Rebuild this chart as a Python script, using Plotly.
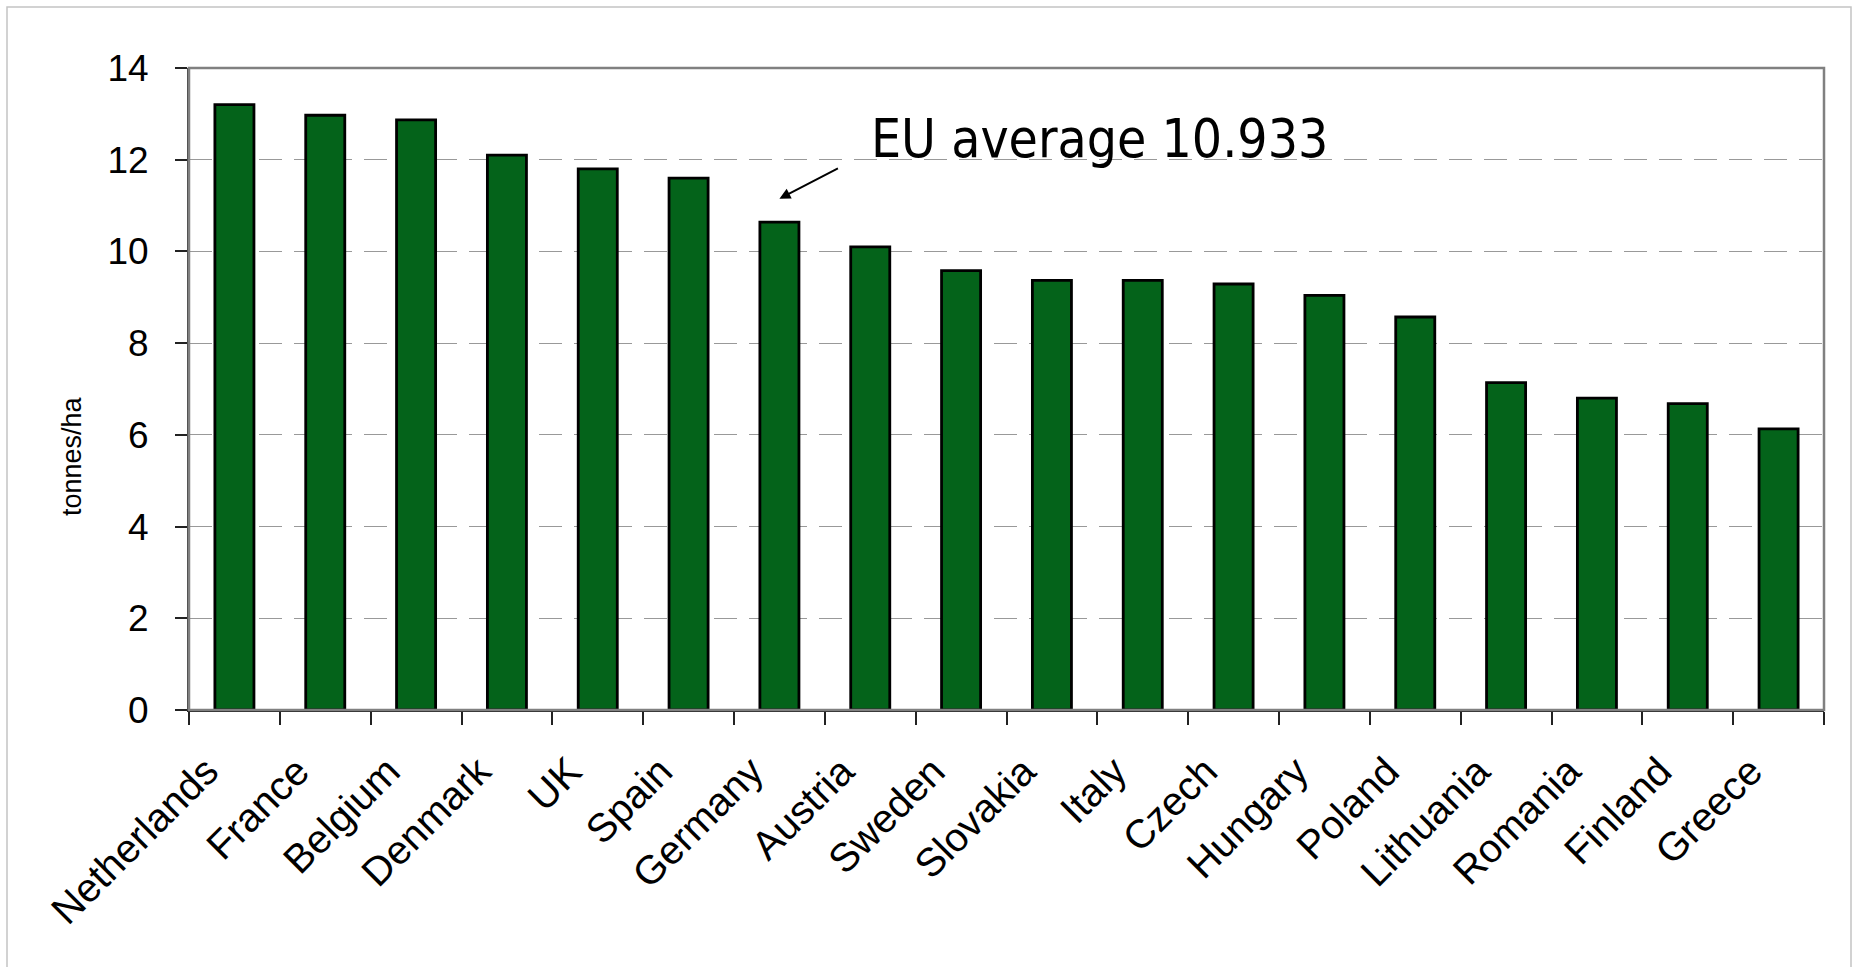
import plotly.graph_objects as go

# Yield per hectare by country
countries = ["Netherlands", "France", "Belgium", "Denmark", "UK", "Spain", "Germany",
             "Austria", "Sweden", "Slovakia", "Italy", "Czech", "Hungary", "Poland",
             "Lithuania", "Romania", "Finland", "Greece"]
yields = [13.2, 12.97, 12.87, 12.1, 11.8, 11.6, 10.64, 10.1, 9.58, 9.37, 9.37, 9.29,
          9.04, 8.57, 7.14, 6.8, 6.68, 6.13]
y_ticks = [0, 2, 4, 6, 8, 10, 12, 14]
eu_average = 10.933

W, H = 1858, 967
L, R, T, B = 189, 34, 68, 257
PW, PH = W - L - R, H - T - B


def px_x(p):
    return (p - L) / PW


def px_y(p):
    return 1 - (p - T) / PH


fig = go.Figure()
fig.add_trace(go.Bar(
    x=countries, y=yields,
    marker=dict(color="#04631a", line=dict(color="#000000", width=2.8)),
    hoverinfo="x+y",
))

fig.update_layout(
    width=W, height=H,
    margin=dict(l=L, r=R, t=T, b=B),
    paper_bgcolor="white", plot_bgcolor="white",
    font=dict(family="Liberation Sans, Arial, sans-serif", color="black"),
    bargap=0.57,
    showlegend=False,
)

fig.update_xaxes(
    showline=True, linecolor="#222222", linewidth=1.5,
    ticks="outside", tickson="boundaries", ticklen=13, tickcolor="#222222", tickwidth=1.5,
    tickangle=-45, tickfont=dict(size=40), ticklabelstandoff=20, ticklabelshift=-28,
    showgrid=False,
)
fig.update_yaxes(
    range=[0, 14], tickvals=y_ticks,
    showline=True, linecolor="#444444", linewidth=2,
    ticks="outside", ticklen=12, tickcolor="#222222", tickwidth=1.5,
    tickfont=dict(size=37), ticklabelstandoff=19,
    showgrid=True, gridcolor="#999999", gridwidth=1.3, griddash="23px,12px",
    zeroline=False,
)

# y-axis caption
fig.add_annotation(
    xref="paper", yref="paper", x=px_x(72), y=px_y(456),
    xanchor="center", yanchor="middle", showarrow=False, textangle=-90,
    text="tonnes/ha", font=dict(size=27),
)

# plot-area frame (top and right edges)
fig.add_shape(type="rect", xref="paper", yref="paper", x0=0, x1=1, y0=0, y1=1,
              line=dict(color="#808080", width=2.5), layer="above")
# outer chart border
fig.add_shape(type="rect", xref="paper", yref="paper",
              x0=px_x(7), x1=px_x(1851), y0=px_y(975), y1=px_y(7),
              line=dict(color="#c4c4c4", width=1.5))

fig.add_annotation(
    xref="paper", yref="paper", x=px_x(869), y=px_y(138),
    xanchor="left", yanchor="middle", showarrow=False,
    text=f"EU average {eu_average:.3f}",
    font=dict(family="DejaVu Sans Condensed, DejaVu Sans, sans-serif", size=53, color="black"),
)
fig.add_annotation(
    x="Germany", y=11.15, xref="x", yref="y", text="",
    showarrow=True, arrowhead=2, arrowsize=1.1, arrowwidth=2, arrowcolor="black",
    ax=60, ay=-31, standoff=0,
)

fig.write_html("out.html")
